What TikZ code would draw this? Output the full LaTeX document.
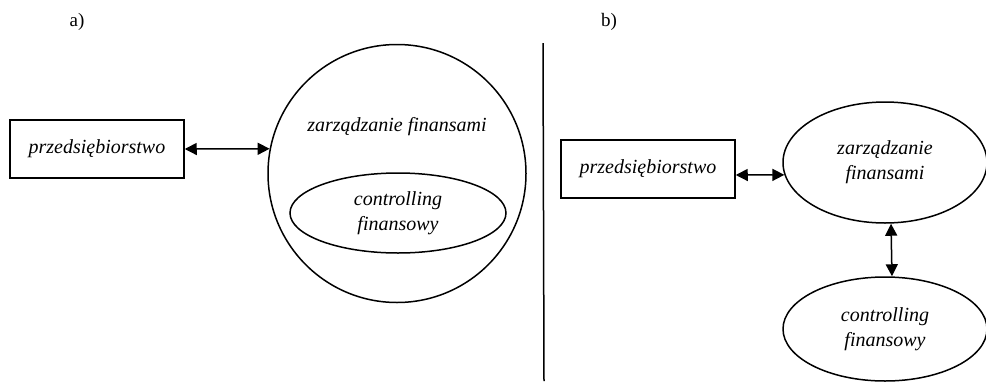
\documentclass[tikz,border=0pt]{standalone}
\usepackage{fontspec}
\setmainfont{Liberation Serif}
\usepackage{tikz}
\usetikzlibrary{shapes.geometric,arrows.meta,positioning}

\tikzset{
  opis/.style={font=\fontsize{20}{25}\selectfont\itshape, align=center},
  ramka/.style={draw, line width=1.5pt, minimum width=174pt, minimum height=58pt, opis},
  elipsa/.style={draw, ellipse, line width=1.5pt, opis},
  strz/.style={{Triangle[length=12pt,width=12pt]}-{Triangle[length=12pt,width=12pt]}, line width=1.5pt}
}

\begin{document}
\begin{tikzpicture}[x=1pt,y=-1pt]
\useasboundingbox (0,0) rectangle (986,381);
% a)
\node[font=\fontsize{19}{22}\selectfont] (etyka) at (77,22) {a)};
\node[ramka] (firmaA) at (97,149) {przedsiębiorstwo};
\node[draw, circle, line width=1.5pt, minimum size=258pt] (zarzA) at (397,173.5) {};
\node[opis] (zarzAtxt) at (397,127) {zarządzanie finansami};
\node[elipsa, minimum width=216pt, minimum height=80pt] (kontrA) at (398,213) {controlling\\finansowy};
\draw[strz] (firmaA.east) -- (zarzA.169);

% podzial
\draw[line width=1.5pt] (543,43) -- (544,381);

% b)
\node[font=\fontsize{19}{22}\selectfont] (etykb) at (609,22) {b)};
\node[ramka] (firmaB) at (648,169) {przedsiębiorstwo};
\node[elipsa, minimum width=204pt, minimum height=121pt] (zarzB) at (885,162.5) {zarządzanie\\finansami};
\node[elipsa, minimum width=204pt, minimum height=104pt] (kontrB) at (885,329) {controlling\\finansowy};
\draw[strz] ([yshift=-6pt]firmaB.east) -- (zarzB.187);
\draw[strz] ([xshift=6pt]zarzB.south) -- ([xshift=7pt]kontrB.north);
\end{tikzpicture}
\end{document}
